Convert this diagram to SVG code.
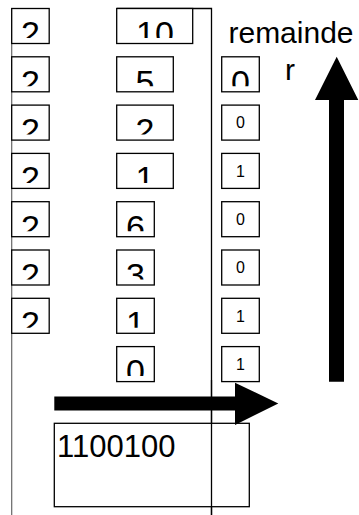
<svg xmlns="http://www.w3.org/2000/svg" width="359" height="515" viewBox="0 0 359 515">
<style>
.bx{fill:#fff;stroke:#000;stroke-width:1.3}
.big{font-family:"Liberation Sans",Arial,sans-serif;font-size:34px;text-anchor:middle;fill:#000}
.sm{font-family:"Liberation Sans",Arial,sans-serif;font-size:16px;text-anchor:middle;fill:#000}
.lbl{font-family:"Liberation Sans",Arial,sans-serif;font-size:30px;fill:#000}
.ln{fill:none;stroke:#000;stroke-width:1.3}
</style>
<defs>
<clipPath id="c0"><rect x="0" y="8.5" width="359" height="29.5"/></clipPath>
<clipPath id="c1"><rect x="0" y="56.8" width="359" height="29.5"/></clipPath>
<clipPath id="c2"><rect x="0" y="105.1" width="359" height="29.5"/></clipPath>
<clipPath id="c3"><rect x="0" y="153.4" width="359" height="29.5"/></clipPath>
<clipPath id="c4"><rect x="0" y="201.7" width="359" height="29.5"/></clipPath>
<clipPath id="c5"><rect x="0" y="250" width="359" height="29.5"/></clipPath>
<clipPath id="c6"><rect x="0" y="298.3" width="359" height="29.5"/></clipPath>
<clipPath id="c7"><rect x="0" y="346.6" width="359" height="29.5"/></clipPath>
</defs>
<rect width="359" height="515" fill="#fff"/>
<g id="frame">
<line x1="11.7" y1="8.5" x2="11.7" y2="515" stroke="#666" stroke-width="1.2"/>
<path class="ln" d="M116.7,8.5 H211.5 V515"/>
</g>
<g id="divisors">
<g id="d0"><rect class="bx" x="11.7" y="8.5" width="37.5" height="35"/><text class="big" x="30.4" y="45.3" clip-path="url(#c0)">2</text></g>
<g id="d1"><rect class="bx" x="11.7" y="56.8" width="37.5" height="35"/><text class="big" x="30.4" y="93.6" clip-path="url(#c1)">2</text></g>
<g id="d2"><rect class="bx" x="11.7" y="105.1" width="37.5" height="35"/><text class="big" x="30.4" y="141.9" clip-path="url(#c2)">2</text></g>
<g id="d3"><rect class="bx" x="11.7" y="153.4" width="37.5" height="35"/><text class="big" x="30.4" y="190.2" clip-path="url(#c3)">2</text></g>
<g id="d4"><rect class="bx" x="11.7" y="201.7" width="37.5" height="35"/><text class="big" x="30.4" y="238.5" clip-path="url(#c4)">2</text></g>
<g id="d5"><rect class="bx" x="11.7" y="250" width="37.5" height="35"/><text class="big" x="30.4" y="286.8" clip-path="url(#c5)">2</text></g>
<g id="d6"><rect class="bx" x="11.7" y="298.3" width="37.5" height="35"/><text class="big" x="30.4" y="335.1" clip-path="url(#c6)">2</text></g>
</g>
<g id="quotients">
<g id="q0"><rect class="bx" x="116.7" y="8.5" width="76" height="35"/><text class="big" x="155" y="45.3" clip-path="url(#c0)">10</text></g>
<g id="q1"><rect class="bx" x="116.7" y="56.8" width="56.6" height="35"/><text class="big" x="145" y="93.6" clip-path="url(#c1)">5</text></g>
<g id="q2"><rect class="bx" x="116.7" y="105.1" width="56.6" height="35"/><text class="big" x="145" y="141.9" clip-path="url(#c2)">2</text></g>
<g id="q3"><rect class="bx" x="116.7" y="153.4" width="56.6" height="35"/><text class="big" x="145" y="190.2" clip-path="url(#c3)">1</text></g>
<g id="q4"><rect class="bx" x="116.7" y="201.7" width="37.6" height="35"/><text class="big" x="135.5" y="238.5" clip-path="url(#c4)">6</text></g>
<g id="q5"><rect class="bx" x="116.7" y="250" width="37.6" height="35"/><text class="big" x="135.5" y="286.8" clip-path="url(#c5)">3</text></g>
<g id="q6"><rect class="bx" x="116.7" y="298.3" width="37.6" height="35"/><text class="big" x="135.5" y="335.1" clip-path="url(#c6)">1</text></g>
<g id="q7"><rect class="bx" x="116.7" y="346.6" width="37.6" height="35"/><text class="big" x="135.5" y="383.4" clip-path="url(#c7)">0</text></g>
</g>
<g id="remainders">
<g id="r1"><rect class="bx" x="221.7" y="56.8" width="37.6" height="35"/><text class="big" x="240.5" y="93.6" clip-path="url(#c1)">0</text></g>
<g id="r2"><rect class="bx" x="221.7" y="105.1" width="37.6" height="35"/><text class="sm" x="240.5" y="128.4">0</text></g>
<g id="r3"><rect class="bx" x="221.7" y="153.4" width="37.6" height="35"/><text class="sm" x="240.5" y="176.7">1</text></g>
<g id="r4"><rect class="bx" x="221.7" y="201.7" width="37.6" height="35"/><text class="sm" x="240.5" y="225">0</text></g>
<g id="r5"><rect class="bx" x="221.7" y="250" width="37.6" height="35"/><text class="sm" x="240.5" y="273.3">0</text></g>
<g id="r6"><rect class="bx" x="221.7" y="298.3" width="37.6" height="35"/><text class="sm" x="240.5" y="321.6">1</text></g>
<g id="r7"><rect class="bx" x="221.7" y="346.6" width="37.6" height="35"/><text class="sm" x="240.5" y="369.9">1</text></g>
</g>
<g id="label-remainder">
<text class="lbl" x="291" y="43" text-anchor="middle">remainde</text>
<text class="lbl" x="290" y="80" text-anchor="middle">r</text>
</g>
<g id="result">
<rect class="bx" x="54.3" y="423.3" width="195" height="83.4"/>
<text class="lbl" x="57" y="457" style="font-size:31px">1100100</text>
</g>
<g id="connectors">
<polygon id="arrow-up" points="329,381.7 344,381.7 344,100 358.3,100 336.7,56.7 315,100 329,100" fill="#000"/>
<polygon id="arrow-right" points="54.3,396.5 235,396.5 235,382.7 278.3,403.5 235,425 235,410.5 54.3,410.5" fill="#000"/>
</g>
<line x1="211.5" y1="380" x2="211.5" y2="515" stroke="#000" stroke-width="1.3"/>
</svg>
